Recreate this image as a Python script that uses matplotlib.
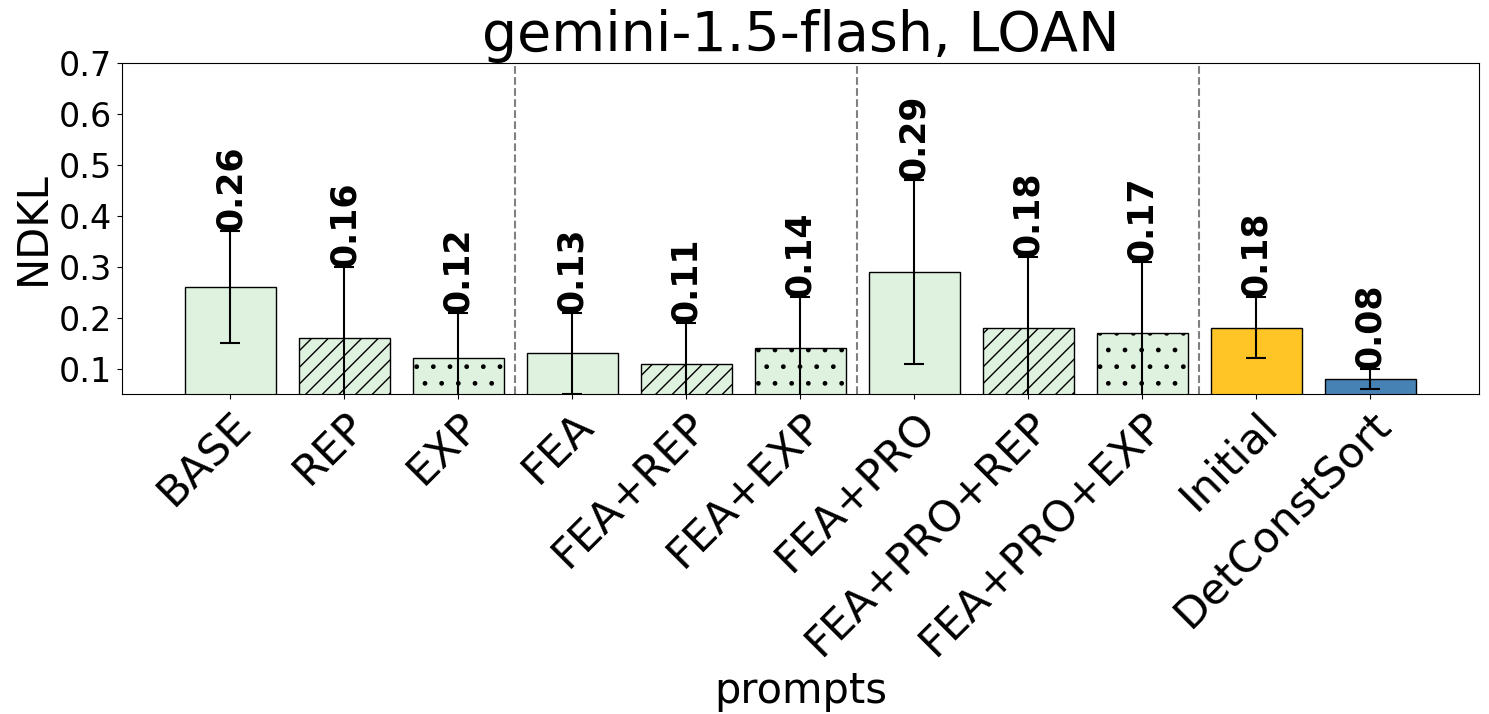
import matplotlib
matplotlib.use("Agg")
import matplotlib.pyplot as plt

prompts = ["BASE", "REP", "EXP", "FEA", "FEA+REP", "FEA+EXP", "FEA+PRO",
           "FEA+PRO+REP", "FEA+PRO+EXP", "Initial", "DetConstSort"]
ndkl = [0.26, 0.16, 0.12, 0.13, 0.11, 0.14, 0.29, 0.18, 0.17, 0.18, 0.08]
ndkl_err = [0.11, 0.14, 0.09, 0.08, 0.08, 0.10, 0.18, 0.14, 0.14, 0.06, 0.02]
hatches = ["", "//", ".", "", "//", ".", "", "//", ".", "", ""]
colors = ["#dff1df"] * 9 + ["#ffc425", "#4682b4"]

fig, ax = plt.subplots(figsize=(14.89, 7.14), dpi=100)
x = list(range(len(prompts)))
bars = ax.bar(x, ndkl, width=0.8, color=colors, edgecolor="black",
              yerr=ndkl_err, capsize=7, error_kw={"elinewidth": 1.5, "capthick": 1.5})
for b, h in zip(bars, hatches):
    b.set_hatch(h)

for i in range(len(prompts)):
    ax.text(x[i], ndkl[i] + ndkl_err[i], "%.2f" % ndkl[i], rotation=90,
            ha="center", va="bottom", fontsize=25, fontweight="bold")

for sep in [2.5, 5.5, 8.5]:
    ax.axvline(sep, color="gray", linestyle="--", linewidth=1.5)

ax.set_ylim(0.05, 0.7)
ax.set_yticks([0.1, 0.2, 0.3, 0.4, 0.5, 0.6, 0.7])
ax.set_xlim(-0.95, 10.95)
ax.set_xticks(x)
ax.set_xticklabels(prompts, rotation=45, ha="right", rotation_mode="anchor", fontsize=31)
ax.tick_params(axis="y", labelsize=24)
ax.set_ylabel("NDKL", fontsize=30)
ax.set_xlabel("prompts", fontsize=30)
ax.set_title("gemini-1.5-flash, LOAN", fontsize=40)

plt.subplots_adjust(left=0.082, right=0.993, top=0.912, bottom=0.448)
plt.savefig("out.png")
